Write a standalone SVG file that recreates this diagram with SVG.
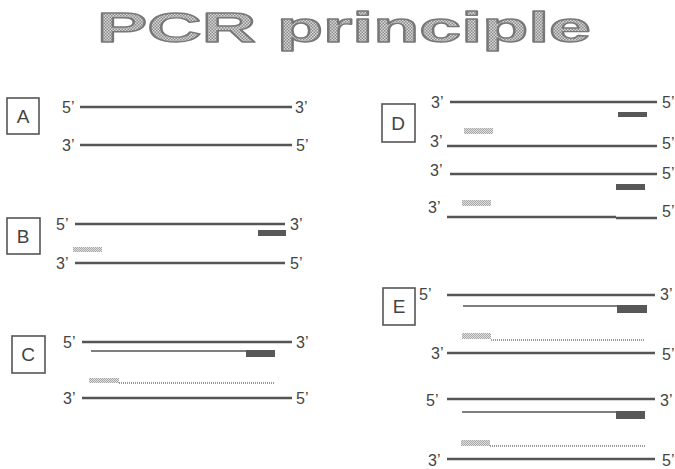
<svg xmlns="http://www.w3.org/2000/svg" width="675" height="469" viewBox="0 0 675 469">
<defs>
<pattern id="chk" width="3" height="3" patternUnits="userSpaceOnUse">
<rect width="3" height="3" fill="#d8d8d8"/>
<rect width="1.5" height="1.5" fill="#8a8a8a"/>
<rect x="1.5" y="1.5" width="1.5" height="1.5" fill="#8a8a8a"/>
</pattern>
<pattern id="lite" width="2" height="2" patternUnits="userSpaceOnUse">
<rect width="2" height="2" fill="#e0e0e0"/>
<rect width="1" height="1" fill="#a8a8a8"/>
<rect x="1" y="1" width="1" height="1" fill="#a8a8a8"/>
</pattern>
</defs>
<style>
.t{font-family:"Liberation Sans",Arial,sans-serif;font-size:16px;fill:#444}
.bl{font-family:"Liberation Sans",Arial,sans-serif;font-size:19px;fill:#444;text-anchor:middle}
.box{fill:#fff;stroke:#555;stroke-width:1.6}
.s{stroke:#555;stroke-width:2.6;fill:none}
.n{stroke:#555;stroke-width:1.6;fill:none}
.d{stroke:#777;stroke-width:1.3;stroke-dasharray:1 1;fill:none}
.dp{fill:#585858}
.lp{fill:url(#lite)}
</style>
<rect width="675" height="469" fill="#fff"/>
<text x="97" y="42" font-family="Liberation Sans,Arial,sans-serif" font-weight="bold" font-size="42" textLength="494" lengthAdjust="spacingAndGlyphs" fill="url(#chk)" stroke="#777" stroke-width="1.4" stroke-linejoin="round">PCR principle</text>

<g id="A">
<rect class="box" x="7" y="98" width="32" height="36"/>
<text class="bl" x="23" y="123">A</text>
<text class="t" x="62" y="113">5’</text><text class="t" x="295" y="113">3’</text>
<text class="t" x="62" y="151">3’</text><text class="t" x="296" y="151">5’</text>
<line class="s" x1="80" y1="107" x2="292" y2="107"/>
<line class="s" x1="80" y1="145" x2="292" y2="145"/>
</g>

<g id="B">
<rect class="box" x="7" y="218" width="33" height="36"/>
<text class="bl" x="23" y="243">B</text>
<text class="t" x="56" y="230">5’</text><text class="t" x="290" y="230">3’</text>
<text class="t" x="56" y="269">3’</text><text class="t" x="290" y="269">5’</text>
<line class="s" x1="75" y1="224" x2="285" y2="224"/>
<rect class="dp" x="258" y="230" width="28" height="6"/>
<rect class="lp" x="73" y="247" width="29" height="5"/>
<line class="s" x1="75" y1="263" x2="285" y2="263"/>
</g>

<g id="C">
<rect class="box" x="12" y="336" width="33" height="37"/>
<text class="bl" x="28" y="361">C</text>
<text class="t" x="63" y="348">5’</text><text class="t" x="296" y="348">3’</text>
<text class="t" x="63" y="404">3’</text><text class="t" x="296" y="404">5’</text>
<line class="s" x1="82" y1="342" x2="292" y2="342"/>
<line class="n" x1="91" y1="351" x2="275" y2="351"/>
<rect class="dp" x="246" y="350" width="29" height="7"/>
<rect class="lp" x="89" y="378" width="30" height="5"/>
<line class="d" x1="119" y1="383" x2="275" y2="383"/>
<line class="s" x1="82" y1="398" x2="292" y2="398"/>
</g>

<g id="D">
<rect class="box" x="382" y="104" width="33" height="38"/>
<text class="bl" x="398" y="130">D</text>
<text class="t" x="431" y="108">3’</text><text class="t" x="662" y="108">5’</text>
<text class="t" x="430" y="147">3’</text><text class="t" x="662" y="149">5’</text>
<text class="t" x="430" y="176">3’</text><text class="t" x="662" y="179">5’</text>
<text class="t" x="428" y="213">3’</text><text class="t" x="662" y="217">5’</text>
<line class="s" x1="450" y1="102" x2="657" y2="102"/>
<rect class="dp" x="618" y="112" width="29" height="5"/>
<rect class="lp" x="464" y="128" width="29" height="6"/>
<line class="s" x1="447" y1="146" x2="657" y2="146"/>
<line class="s" x1="450" y1="174" x2="657" y2="174"/>
<rect class="dp" x="616" y="184" width="29" height="6"/>
<rect class="lp" x="462" y="200" width="29" height="6"/>
<line class="s" x1="447" y1="217" x2="616" y2="217"/>
<line class="s" x1="616" y1="218" x2="657" y2="218"/>
</g>

<g id="E">
<rect class="box" x="383" y="288" width="32" height="37"/>
<text class="bl" x="399" y="313">E</text>
<text class="t" x="419" y="300">5’</text><text class="t" x="660" y="300">3’</text>
<line class="s" x1="447" y1="295" x2="655" y2="295"/>
<line class="n" x1="463" y1="306" x2="647" y2="306"/>
<rect class="dp" x="617" y="305" width="30" height="8"/>
<rect class="lp" x="462" y="333" width="29" height="6"/>
<line class="d" x1="491" y1="340" x2="645" y2="340"/>
<text class="t" x="431" y="359">3’</text><text class="t" x="662" y="360">5’</text>
<line class="s" x1="447" y1="353" x2="655" y2="353"/>
<text class="t" x="426" y="406">5’</text><text class="t" x="660" y="406">3’</text>
<line class="s" x1="447" y1="399" x2="655" y2="399"/>
<line class="n" x1="462" y1="412" x2="645" y2="412"/>
<rect class="dp" x="616" y="411" width="29" height="8"/>
<rect class="lp" x="461" y="440" width="29" height="6"/>
<line class="d" x1="490" y1="446" x2="645" y2="446"/>
<text class="t" x="428" y="466">3’</text><text class="t" x="662" y="466">5’</text>
<line class="s" x1="447" y1="459" x2="655" y2="459"/>
</g>
</svg>
